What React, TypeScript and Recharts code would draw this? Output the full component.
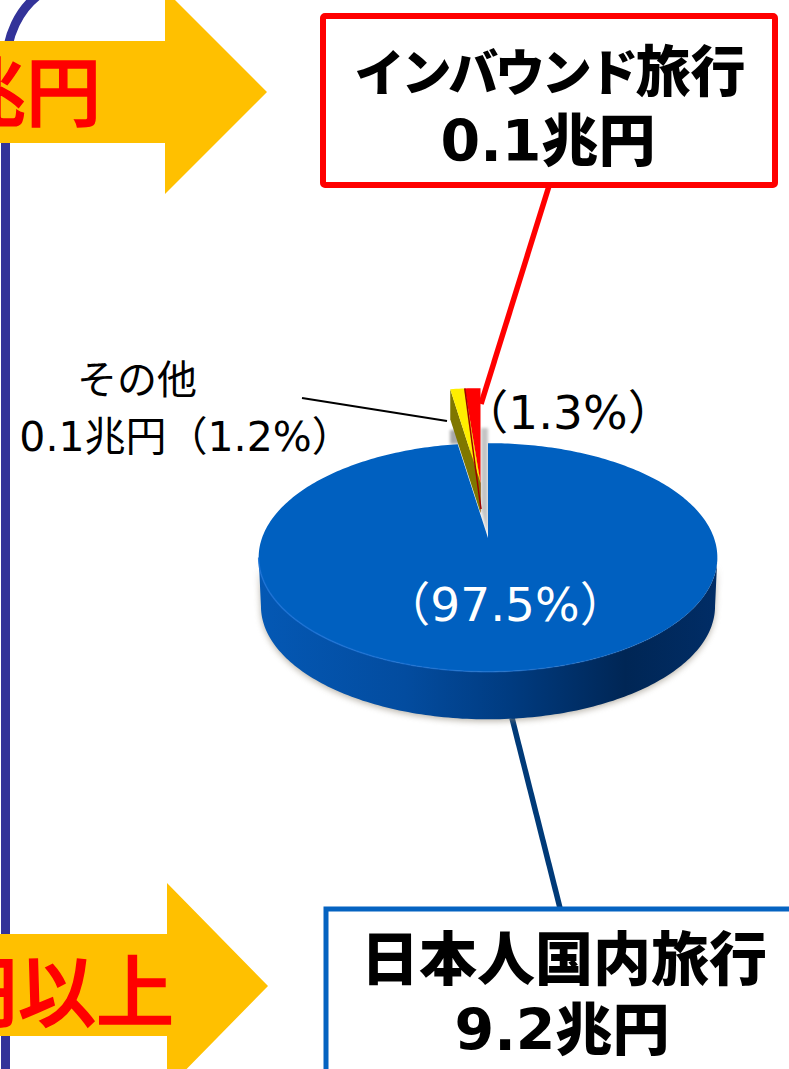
import { PieChart, Pie } from "recharts";

const WIDTH = 789;
const HEIGHT = 1069;

// Slices run counter-clockwise from 12 o'clock; the big one paints last so it sits over the pulled-out tips
const sliceNames = ["インバウンド旅行", "その他", "日本人国内旅行"];
const sliceShares = [1.3, 1.2, 97.5];
const sliceAmounts = [0.1, 0.1, 9.2];
const sliceColors = ["#ff0000", "#ffee00", "#0060c0"];
const sliceWallColors = ["#9c0000", "#7f7700", "#003a7d"];

const pieData = sliceNames.map((name, i) => ({
  name,
  value: sliceShares[i],
  fill: sliceColors[i],
}));

// Fake 3D: a projective squash of the disc, so the apex sits above the ellipse middle
const SQUASH = 0.491;
const TILT = 0.17;
const WALL = 49;
const EXPLODE = { dx: -7.5, dy: -55 };
const SLICE_WALL = 30;

const SANS = '"DejaVu Sans", "Noto Sans CJK JP", sans-serif';

type Pt = [number, number];

function project(cx: number, cy: number, r: number, deg: number): Pt {
  const a = (deg * Math.PI) / 180;
  const w = 1 + TILT * Math.sin(a);
  return [cx + (r * Math.cos(a)) / w, cy - (r * SQUASH * Math.sin(a)) / w];
}

function arc(cx: number, cy: number, r: number, from: number, to: number): Pt[] {
  const steps = Math.max(2, Math.ceil(Math.abs(to - from)));
  const pts: Pt[] = [];
  for (let i = 0; i <= steps; i++) {
    pts.push(project(cx, cy, r, from + ((to - from) * i) / steps));
  }
  return pts;
}

const toPath = (pts: Pt[], close = true) =>
  "M" + pts.map((p) => `${p[0].toFixed(2)} ${p[1].toFixed(2)}`).join("L") + (close ? "Z" : "");

function SliceShape(props: any) {
  const { cx, cy, outerRadius, startAngle, endAngle, name } = props;
  const i = sliceNames.indexOf(name);
  const big = i === 2;

  if (!big) {
    const ox = cx + EXPLODE.dx;
    const oy = cy + EXPLODE.dy;
    const rim = arc(ox, oy, outerRadius, startAngle, endAngle);
    const outer = rim[rim.length - 1];
    const wall: Pt[] = [
      outer,
      [ox, oy],
      [ox, oy + SLICE_WALL],
      [outer[0], outer[1] + SLICE_WALL],
    ];
    return (
      <g>
        {/* shade in the gap goes down first, so every slice covers it */}
        {i === 0 && (
          <>
            <defs>
              <filter id="gapShadow" x="-100%" y="-20%" width="300%" height="140%">
                <feGaussianBlur stdDeviation="1.5" />
              </filter>
            </defs>
            <path d={toPath([[cx - 7, cy - 110], [cx, cy - 110], [cx, cy - 1], [cx - 7, cy - 28]])} fill="#c4c4c4" filter="url(#gapShadow)" />
            <path d={toPath([[cx - 38, cy - 108], [cx - 26, cy - 108], [cx - 26, cy - 94], [cx - 38, cy - 94]])} fill="#a8a8a8" filter="url(#gapShadow)" />
          </>
        )}
        <path d={toPath(wall)} fill={sliceWallColors[i]} />
        <path d={toPath([[ox, oy], ...rim])} fill={sliceColors[i]} />
        {i === 1 && (
          <path d={toPath([rim[0], [ox + 0.5, oy + 26]], false)} stroke={sliceWallColors[0]} strokeWidth={1.5} fill="none" />
        )}
      </g>
    );
  }

  const edge = (Math.asin(TILT) * 180) / Math.PI;
  const front = arc(cx, cy, outerRadius, 180 + edge, 360 - edge);
  const bottom = arc(cx, cy + WALL, outerRadius * 0.99, 360 - edge, 180 + edge);
  const top = arc(cx, cy, outerRadius, startAngle, endAngle);

  return (
    <g>
      <defs>
        <linearGradient id="wallShade" x1="0" x2="1" y1="0" y2="0">
          <stop offset="0" stopColor="#0458b4" />
          <stop offset="0.32" stopColor="#034c9f" />
          <stop offset="0.55" stopColor="#003b80" />
          <stop offset="0.8" stopColor="#002655" />
          <stop offset="1" stopColor="#012d66" />
        </linearGradient>
        <linearGradient id="rimFade" x1="0" x2="1" y1="0" y2="0">
          <stop offset="0" stopColor="#1c72d6" stopOpacity={0.9} />
          <stop offset="0.6" stopColor="#1c72d6" stopOpacity={0.5} />
          <stop offset="1" stopColor="#1c72d6" stopOpacity={0} />
        </linearGradient>
        <filter id="softShadow" x="-10%" y="-20%" width="120%" height="140%">
          <feGaussianBlur stdDeviation="3" />
        </filter>
      </defs>
      {/* ground shadow under the side wall */}
      <path
        d={toPath([...front, ...bottom])}
        fill="#8a8272"
        opacity={0.6}
        filter="url(#softShadow)"
        transform="translate(0 2)"
      />
      <path d={toPath([...front, ...bottom])} fill="url(#wallShade)" />
      <path d={toPath([[cx, cy], ...top])} fill={sliceColors[i]} />
      <path d={toPath(front, false)} fill="none" stroke="url(#rimFade)" strokeWidth={1.5} />
    </g>
  );
}

function SliceLabel(props: any) {
  const { index, value } = props;
  if (index === 0) {
    return (
      <text x={568} y={429} textAnchor="middle" fontFamily={SANS} fontSize={47} fill="#000">
        （{value}%）
      </text>
    );
  }
  if (index === 1) {
    return (
      <text textAnchor="middle" fontFamily={SANS} fill="#000">
        <tspan x={137} y={394} fontSize={40}>{sliceNames[1]}</tspan>
        <tspan x={186} y={451} fontSize={41}>{sliceAmounts[1]}兆円（{value}%）</tspan>
      </text>
    );
  }
  return (
    <text x={505} y={621} textAnchor="middle" fontFamily={SANS} fontSize={47} fill="#fff">
      （{value}%）
    </text>
  );
}

function Backdrop() {
  return (
    <svg width={WIDTH} height={HEIGHT} style={{ position: "absolute", left: 0, top: 0 }}>
      <path d="M5.5 1069V70C5.5 35 20 8 40 -6" fill="none" stroke="#333399" strokeWidth={9} />
      <path d="M0 41H165V-10L267 92L165 194V143H0Z" fill="#ffc000" />
      <path d="M0 934H167V883L268 986L167 1089V1036H0Z" fill="#ffc000" />
      <text x={101} y={120} textAnchor="end" fontFamily={SANS} fontSize={75} fontWeight={500} stroke="#ff0000" strokeWidth={1.5} fill="#ff0000">
        兆円
      </text>
      <text x={174} y={1021} textAnchor="end" fontFamily={SANS} fontSize={78} fontWeight={500} stroke="#ff0000" strokeWidth={1.5} fill="#ff0000">
        円以上
      </text>

      {/* leader lines */}
      <line x1={549} y1={186} x2={481} y2={404} stroke="#ff0000" strokeWidth={5.5} />
      <line x1={512} y1={718} x2={560} y2={908} stroke="#003a78" strokeWidth={5.5} />
      <line x1={302} y1={398} x2={447} y2={421} stroke="#000" strokeWidth={2} />

      {/* callout boxes */}
      <rect x={323} y={16} width={452} height={169} rx={2} fill="#fff" stroke="#ff0000" strokeWidth={6} />
      <text textAnchor="middle" fontFamily={SANS} fontWeight={900} fill="#000">
        <tspan x={550} y={91} fontSize={50} letterSpacing={-3.2}>{sliceNames[0].slice(0, 6)}</tspan>
        <tspan fontSize={55}>{sliceNames[0].slice(6)}</tspan>
        <tspan x={548} y={161} fontSize={57}>{sliceAmounts[0]}兆円</tspan>
      </text>
      <rect x={326} y={909} width={480} height={180} fill="#fff" stroke="#0563c1" strokeWidth={5} />
      <text textAnchor="middle" fontFamily={SANS} fontWeight={900} fill="#000">
        <tspan x={564} y={980} fontSize={58}>{sliceNames[2]}</tspan>
        <tspan x={562} y={1050} fontSize={57}>{sliceAmounts[2]}兆円</tspan>
      </text>
    </svg>
  );
}

export default function App() {
  return (
    <div style={{ position: "absolute", left: 0, top: 0, width: WIDTH, height: HEIGHT, overflow: "hidden", background: "#fff" }}>
      <Backdrop />
      <div style={{ position: "absolute", left: 0, top: 0 }}>
        <PieChart width={WIDTH} height={HEIGHT} margin={{ top: 0, right: 0, bottom: 0, left: 0 }}>
          <Pie
            data={pieData}
            dataKey="value"
            nameKey="name"
            cx={488}
            cy={538}
            innerRadius={0}
            outerRadius={226}
            startAngle={90}
            endAngle={450}
            stroke="none"
            isAnimationActive={false}
            shape={SliceShape}
            inactiveShape={SliceShape}
            activeShape={SliceShape}
            label={SliceLabel}
            labelLine={false}
          />
        </PieChart>
      </div>
    </div>
  );
}
